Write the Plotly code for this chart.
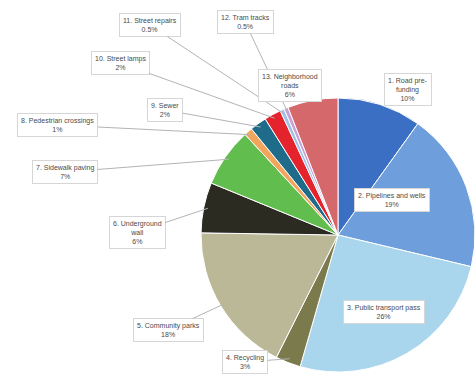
import math
import plotly.graph_objects as go

# Budget shares by item (percent), listed clockwise from 12 o'clock
items = [
    "1. Road pre-<br>funding",
    "2. Pipelines and wells",
    "3. Public transport pass",
    "4. Recycling",
    "5. Community parks",
    "6. Underground<br>wall",
    "7. Sidewalk paving",
    "8. Pedestrian crossings",
    "9. Sewer",
    "10. Street lamps",
    "11. Street repairs",
    "12. Tram tracks",
    "13. Neighborhood<br>roads",
]
shares = [10, 19, 26, 3, 18, 6, 7, 1, 2, 2, 0.5, 0.5, 6]
colors = [
    "#3a6fc4", "#6e9fdc", "#a9d6ec", "#7b7a4c", "#bab897", "#2b2b22",
    "#60bd4e", "#f2a55c", "#1f6c8a", "#e4232c", "#9fc3e6", "#c9a0d8", "#d4686b",
]

W, H = 475, 374
# pie placement in pixels (left, top, right, bottom)
PIE_BOX = (201, 98, 475, 372)

# label box centres in pixels and whether a leader line is drawn
label_pos = [
    (432, 73, False), (430, 200, False), (425, 324, False), (245, 362, True),
    (168, 330, True), (137, 232, True), (65, 172, True), (58, 125, True),
    (165, 110, True), (120, 63, True), (150, 25, True), (245, 22, True),
    (322, 69, False),
]

fig = go.Figure(go.Pie(
    labels=items,
    values=shares,
    sort=False,
    direction="clockwise",
    rotation=0,
    marker=dict(colors=colors, line=dict(color="white", width=1)),
    textinfo="none",
    hoverinfo="label+percent",
    showlegend=False,
    domain=dict(x=[PIE_BOX[0] / W, PIE_BOX[2] / W],
                y=[1 - PIE_BOX[3] / H, 1 - PIE_BOX[1] / H]),
))

cx = (PIE_BOX[0] + PIE_BOX[2]) / 2
cy = (PIE_BOX[1] + PIE_BOX[3]) / 2
R = min(PIE_BOX[2] - PIE_BOX[0], PIE_BOX[3] - PIE_BOX[1]) / 2

total = sum(shares)
cum = 0.0
annotations = []
for name, v, (lx, ly, leader) in zip(items, shares, label_pos):
    mid = (cum + v / 2) / total * 2 * math.pi
    cum += v
    text = f"{name}<br>{v:g}%"
    common = dict(
        text=text, xref="paper", yref="paper",
        font=dict(family="Liberation Sans", size=7, color="#4a4a4a"),
        bgcolor="white", bordercolor="#d6d6d6", borderwidth=1, borderpad=3,
        align="center",
    )
    if leader:
        tx = cx + R * 0.97 * math.sin(mid)
        ty = cy - R * 0.97 * math.cos(mid)
        annotations.append(dict(
            x=tx / W, y=1 - ty / H, ax=lx - tx, ay=ly - ty,
            showarrow=True, arrowhead=0, arrowwidth=1, arrowcolor="#b4b4b4",
            **common,
        ))
    else:
        annotations.append(dict(x=lx / W, y=1 - ly / H, showarrow=False, **common))

fig.update_layout(
    width=W, height=H,
    margin=dict(l=0, r=0, t=0, b=0),
    paper_bgcolor="white",
    plot_bgcolor="white",
    annotations=annotations,
)

fig.write_html("out.html")
